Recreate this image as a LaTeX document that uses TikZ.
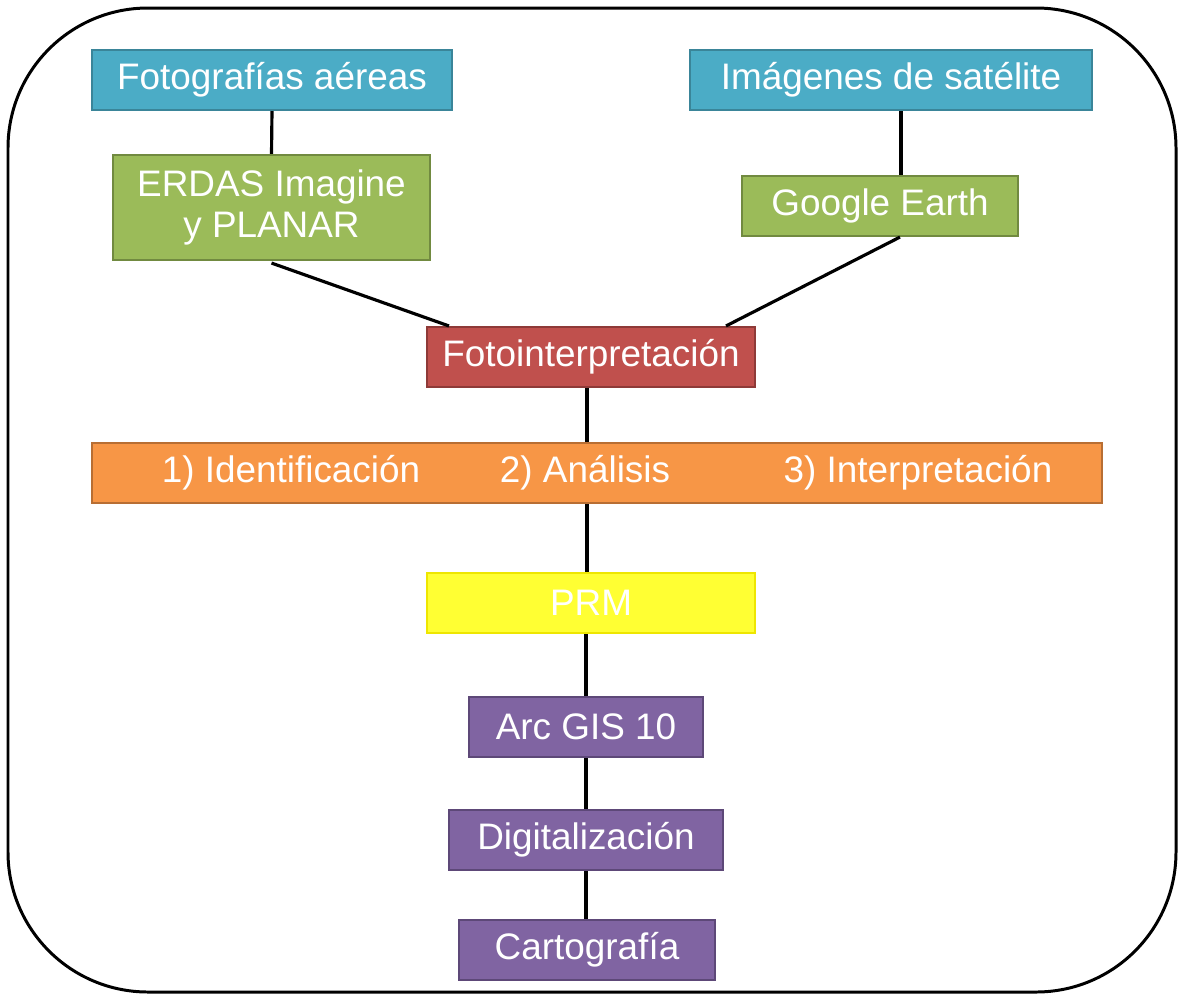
\documentclass[tikz,border=0pt]{standalone}
\usepackage{fontspec}
\setmainfont{Liberation Sans}
\usetikzlibrary{calc}

\definecolor{azul}{HTML}{4BACC6}
\definecolor{azulborde}{HTML}{3A8599}
\definecolor{verde}{HTML}{9BBB59}
\definecolor{verdeborde}{HTML}{718A40}
\definecolor{rojo}{HTML}{C0504D}
\definecolor{rojoborde}{HTML}{8E3A38}
\definecolor{naranja}{HTML}{F79646}
\definecolor{naranjaborde}{HTML}{B86E33}
\definecolor{amarillo}{HTML}{FFFF33}
\definecolor{amarilloborde}{HTML}{EEE600}
\definecolor{morado}{HTML}{8064A2}
\definecolor{moradoborde}{HTML}{5D4878}

\tikzset{
  caja/.style={draw=#1borde, fill=#1, line width=1.2pt, text=white,
    inner sep=0pt, minimum height=1.2cm, align=center,
    font=\fontsize{21}{25}\selectfont},
  enlace/.style={line width=1.8pt, black}
}

\begin{document}
\begin{tikzpicture}[x=0.02cm, y=-0.02cm]
    \useasboundingbox (0,0) rectangle (1180,995);

    % Outer frame
    \draw[line width=1.7pt, rounded corners=2.8cm] (8,8) rectangle (1176,992);

    % Define the centres of the boxes
    \coordinate (FA) at (272,80);
    \coordinate (IS) at (891,80);
    \coordinate (ER) at (271.5,207.5);
    \coordinate (GE) at (880,206);
    \coordinate (FI) at (591,357);
    \coordinate (PA) at (597,473);
    \coordinate (PR) at (591,603);
    \coordinate (AG) at (586,727);
    \coordinate (DG) at (586,840);
    \coordinate (CA) at (587,950);

    % Draw the boxes
    \node[caja=azul, minimum width=7.2cm] (fotos) at (FA) {Fotografías aéreas};
    \node[caja=azul, minimum width=8.04cm] (satelite) at (IS) {Imágenes de satélite};
    \node[caja=verde, minimum width=6.34cm, minimum height=2.1cm] (erdas) at (ER) {ERDAS Imagine\\[-2pt]y PLANAR};
    \node[caja=verde, minimum width=5.52cm] (google) at (GE) {Google Earth};
    \node[caja=rojo, minimum width=6.56cm] (foto) at (FI) {Fotointerpretación};
    \node[caja=naranja, minimum width=20.2cm] (pasos) at (PA) {};
    \node[caja=amarillo, minimum width=6.56cm] (prm) at (PR) {PRM};
    \node[caja=morado, minimum width=4.68cm] (arcgis) at (AG) {Arc GIS 10};
    \node[caja=morado, minimum width=5.48cm] (digital) at (DG) {Digitalización};
    \node[caja=morado, minimum width=5.12cm] (carto) at (CA) {Cartografía};

    % Steps inside the orange bar
    \node[text=white, font=\fontsize{21}{25}\selectfont] (paso1) at (291,473) {1) Identificación};
    \node[text=white, font=\fontsize{21}{25}\selectfont] (paso2) at (585,473) {2) Análisis};
    \node[text=white, font=\fontsize{21}{25}\selectfont] (paso3) at (918,473) {3) Interpretación};

    % Draw the connecting lines
    \draw[enlace] (fotos.south) -- (erdas.north);
    \draw[enlace] ($(satelite.south)+(10,0)$) -- ($(google.north)+(21,0)$);
    \draw[enlace] ($(erdas.south)+(0,2)$) -- ($(foto.north west)+(23,0)$);
    \draw[enlace] ($(google.south)+(20,0)$) -- ($(foto.north east)+(-30,0)$);
    \draw[enlace] ($(foto.south)+(-4,0)$) -- ($(pasos.north)+(-10,0)$);
    \draw[enlace] ($(pasos.south)+(-10,0)$) -- ($(prm.north)+(-4,0)$);
    \draw[enlace] ($(prm.south)+(-5,0)$) -- (arcgis.north);
    \draw[enlace] (arcgis.south) -- (digital.north);
    \draw[enlace] (digital.south) -- ($(carto.north)+(-1,0)$);

\end{tikzpicture}
\end{document}
